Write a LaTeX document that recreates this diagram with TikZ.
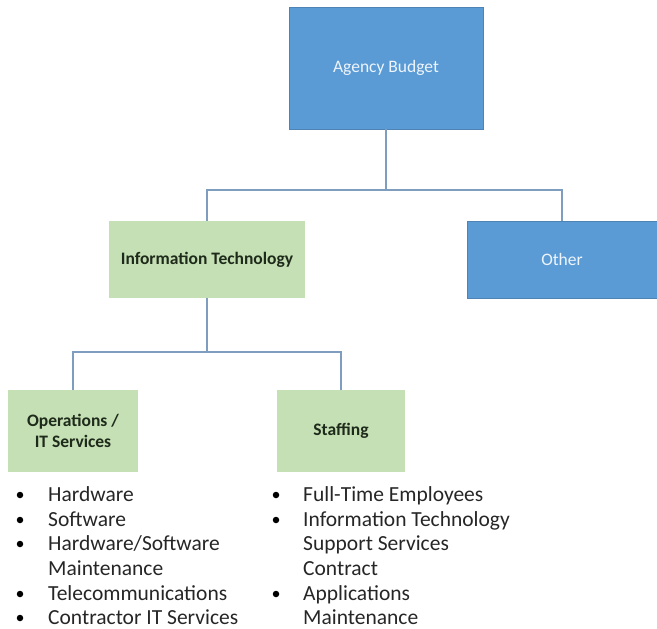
\documentclass[tikz,border=0pt]{standalone}
\usepackage{fontspec}
\setmainfont{Carlito}
\definecolor{boxblue}{HTML}{5B9BD5}
\definecolor{boxgreen}{HTML}{C5E0B4}
\definecolor{linecol}{HTML}{7F9DBF}
\definecolor{bluetext}{HTML}{EEF4FB}
\definecolor{greentext}{HTML}{1E2A1A}
\definecolor{listtext}{HTML}{262626}
\begin{document}
\begin{tikzpicture}[x=1pt,y=-1pt,
  bluebox/.style={fill=boxblue, draw=boxblue!85!black, line width=0.6pt, text=bluetext, font=\fontsize{17.5}{20}\selectfont, align=center, inner sep=0pt},
  greenbox/.style={fill=boxgreen, draw=none, text=greentext, font=\bfseries\fontsize{17.5}{21}\selectfont, align=center, inner sep=0pt},
  conn/.style={draw=linecol, line width=1.4pt},
  item/.style={anchor=base west, text=listtext, font=\fontsize{21.5}{25}\selectfont, inner sep=0pt},
  dot/.style={circle, fill=black, inner sep=0pt, minimum size=6.5pt}]
\useasboundingbox (0,0) rectangle (657,629);
% boxes
\node[bluebox, minimum width=194pt, minimum height=122pt] (ab) at (386,68) {Agency Budget};
\node[greenbox, minimum width=196pt, minimum height=77pt] (it) at (207,259.5) {Information Technology};
\node[bluebox, minimum width=190pt, minimum height=77pt] (ot) at (562,259.5) {Other};
\node[greenbox, minimum width=130pt, minimum height=82pt] (op) at (73,431) {Operations /\\IT Services};
\node[greenbox, minimum width=128pt, minimum height=82pt] (st) at (341,431) {Staffing};
% connectors
\coordinate (j1) at (386,190);
\coordinate (j2) at (207,352);
\draw[conn] (ab.south) -- (j1);
\draw[conn] (it.north) |- (j1) -| (ot.north);
\draw[conn] (it.south) -- (j2);
\draw[conn] (op.north) |- (j2) -| (st.north);
% left list
\node[dot] (b1) at (20,495) {};
\node[dot] (b2) at (20,520) {};
\node[dot] (b3) at (20,544) {};
\node[dot] (b4) at (20,594) {};
\node[dot] (b5) at (20,618) {};
\node[item] (l1) at (48,501) {Hardware};
\node[item] (l2) at (48,526) {Software};
\node[item] (l3) at (48,550) {Hardware/Software};
\node[item] (l3b) at (48,575) {Maintenance};
\node[item] (l4) at (48,600) {Telecommunications};
\node[item] (l5) at (48,624) {Contractor IT Services};
% right list
\node[dot] (c1) at (276,495) {};
\node[dot] (c2) at (276,520) {};
\node[dot] (c3) at (276,594) {};
\node[item] (r1) at (303,501) {Full-Time Employees};
\node[item] (r2) at (303,526) {Information Technology};
\node[item] (r2b) at (303,550) {Support Services};
\node[item] (r2c) at (303,575) {Contract};
\node[item] (r3) at (303,600) {Applications};
\node[item] (r3b) at (303,624) {Maintenance};
\end{tikzpicture}
\end{document}
